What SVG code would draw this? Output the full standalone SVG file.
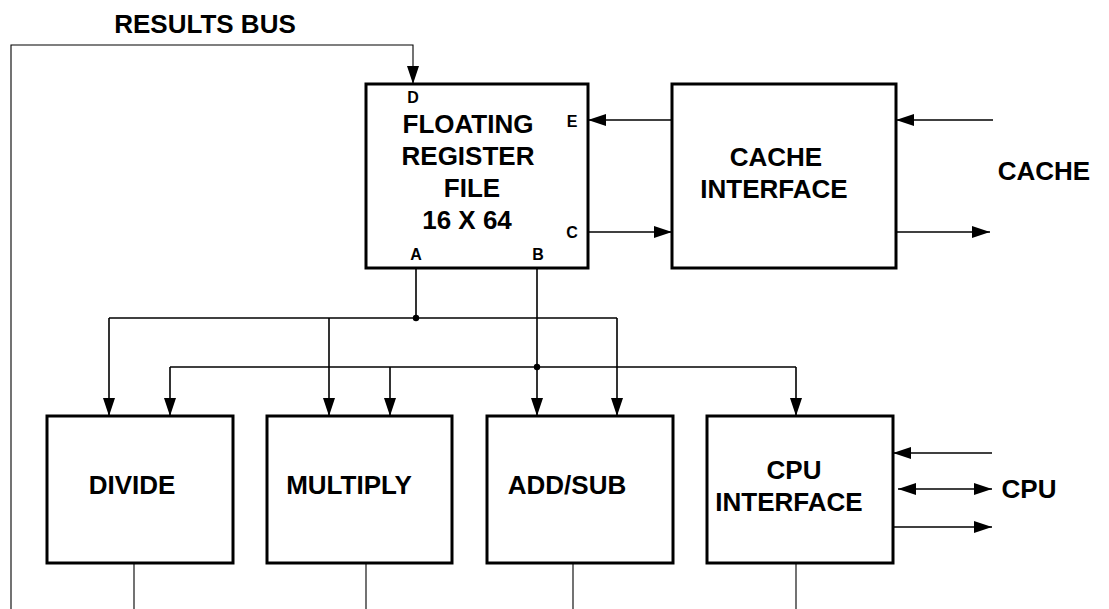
<svg xmlns="http://www.w3.org/2000/svg" width="1109" height="609" viewBox="0 0 1109 609">
<style>
.box{fill:#fff;stroke:#000;stroke-width:3}
.ln{fill:none;stroke:#000;stroke-width:1.6}
.thin{fill:none;stroke:#000;stroke-width:1.1}
.t{font-family:"Liberation Sans",Arial,sans-serif;font-weight:bold;font-size:26px;fill:#000;text-anchor:middle}
.s{font-family:"Liberation Sans",Arial,sans-serif;font-weight:bold;font-size:16px;fill:#000;text-anchor:middle}
</style>
<defs>
<marker id="ah" markerUnits="userSpaceOnUse" markerWidth="18" markerHeight="12" refX="18" refY="6" orient="auto-start-reverse">
<path d="M0,0 L18,6 L0,12 z" fill="#000"/>
</marker>
</defs>
<rect width="1109" height="609" fill="#fff"/>

<g id="connectors">
<path class="thin" d="M11,609 V45 H413 V84" marker-end="url(#ah)"/>
<path class="ln" d="M416,268 V318"/>
<path class="ln" d="M109,318 H617"/>
<path class="ln" d="M109,318 V416" marker-end="url(#ah)"/>
<path class="ln" d="M329,318 V416" marker-end="url(#ah)"/>
<path class="ln" d="M617,318 V416" marker-end="url(#ah)"/>
<path class="ln" d="M537,268 V416" marker-end="url(#ah)"/>
<path class="ln" d="M170,367 H796"/>
<path class="ln" d="M170,367 V416" marker-end="url(#ah)"/>
<path class="ln" d="M390,367 V416" marker-end="url(#ah)"/>
<path class="ln" d="M796,367 V416" marker-end="url(#ah)"/>
<circle cx="416" cy="318" r="3.2" fill="#000"/>
<circle cx="537" cy="367" r="3.2" fill="#000"/>
<path class="ln" d="M672,120 H588" marker-end="url(#ah)"/>
<path class="ln" d="M588,232 H672" marker-end="url(#ah)"/>
<path class="ln" d="M993,120 H896" marker-end="url(#ah)"/>
<path class="ln" d="M896,232 H990" marker-end="url(#ah)"/>
<path class="ln" d="M992,453 H893" marker-end="url(#ah)"/>
<path class="ln" d="M898,489 H992" marker-start="url(#ah)" marker-end="url(#ah)"/>
<path class="ln" d="M893,527 H992" marker-end="url(#ah)"/>
<path class="thin" d="M134,563 V609 M366,563 V609 M573,563 V609 M796,563 V609"/>
</g>

<g id="labels">
<text class="t" x="205" y="33">RESULTS BUS</text>
<text class="t" x="1044" y="180">CACHE</text>
<text class="t" x="1029" y="498">CPU</text>
</g>

<g id="register-file">
<rect class="box" x="366" y="84" width="222" height="184"/>
<text class="s" x="413" y="103">D</text>
<text class="s" x="572" y="127">E</text>
<text class="s" x="572" y="238">C</text>
<text class="s" x="416" y="260">A</text>
<text class="s" x="538" y="260">B</text>
<text class="t" x="468" y="133">FLOATING</text>
<text class="t" x="468" y="165">REGISTER</text>
<text class="t" x="472" y="197">FILE</text>
<text class="t" x="467" y="229">16 X 64</text>
</g>

<g id="cache-interface">
<rect class="box" x="672" y="84" width="224" height="184"/>
<text class="t" x="776" y="166">CACHE</text>
<text class="t" x="774" y="198">INTERFACE</text>
</g>

<g id="divide">
<rect class="box" x="47" y="416" width="186" height="147"/>
<text class="t" x="132" y="494">DIVIDE</text>
</g>

<g id="multiply">
<rect class="box" x="267" y="416" width="185" height="147"/>
<text class="t" x="349" y="494">MULTIPLY</text>
</g>

<g id="add-sub">
<rect class="box" x="487" y="416" width="186" height="147"/>
<text class="t" x="567" y="494">ADD/SUB</text>
</g>

<g id="cpu-interface">
<rect class="box" x="707" y="416" width="186" height="147"/>
<text class="t" x="794" y="479">CPU</text>
<text class="t" x="789" y="511">INTERFACE</text>
</g>
</svg>
